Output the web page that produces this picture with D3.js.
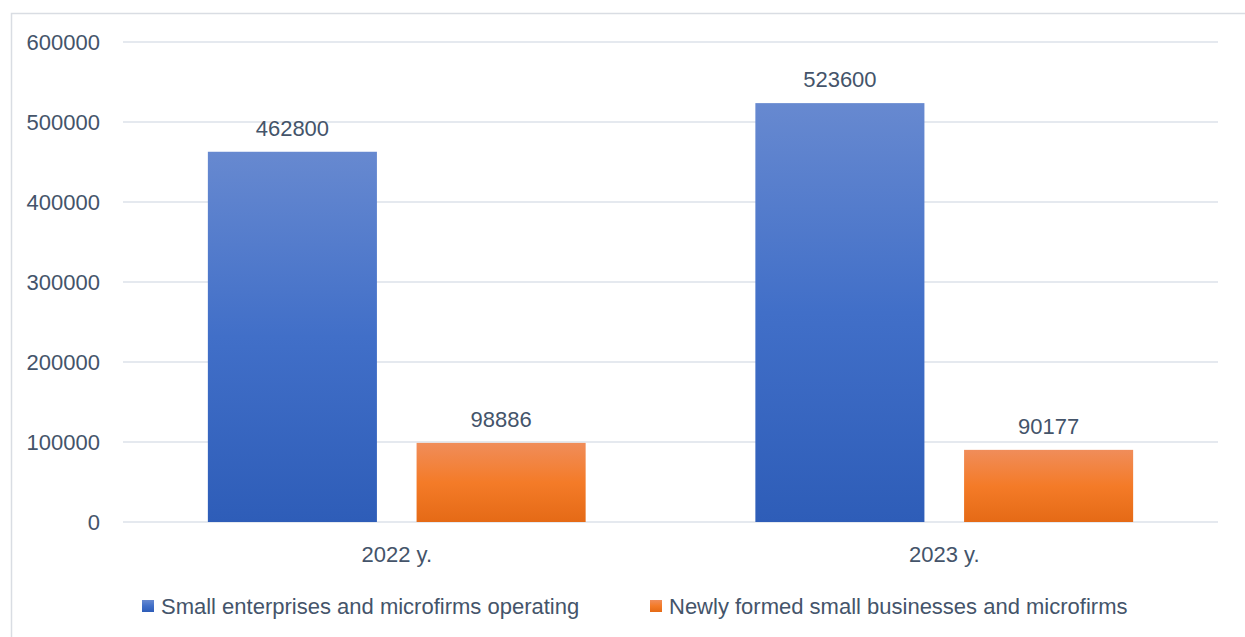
<!DOCTYPE html>
<html>
<head>
<meta charset="utf-8">
<script src="https://cdn.jsdelivr.net/npm/d3@7"></script>
<style>
  body { margin: 0; background: #fff; }
  text { font-family: "Liberation Sans", Arial, sans-serif; fill: #44546a; }
</style>
</head>
<body>
<svg id="chart" width="1245" height="637"></svg>
<script>
const categories = ['2022 y.', '2023 y.']
const seriesNames = ['Small enterprises and microfirms operating', 'Newly formed small businesses and microfirms']
const operating = [462800, 523600]
const newlyFormed = [98886, 90177]
const yTicks = [0, 100000, 200000, 300000, 400000, 500000, 600000]

const margin = {top: 42, right: 27, bottom: 115, left: 123}
const width = 1245
const height = 637

const svg = d3.select('#chart')

// outer chart border (right/bottom fall outside the picture)
svg.append('rect')
  .attr('x', 11.5).attr('y', 13.5)
  .attr('width', 1300).attr('height', 700)
  .attr('fill', 'none')
  .attr('stroke', '#d9dde3')
  .attr('stroke-width', 1.5)

const defs = svg.append('defs')
const gradients = [
  {id: 'gradBlue', stops: ['#6789d0', '#416fc8', '#2e5db8']},
  {id: 'gradOrange', stops: ['#f08d5a', '#f47b28', '#e56a16']}
]
gradients.forEach(g => {
  const lg = defs.append('linearGradient').attr('id', g.id)
    .attr('x1', 0).attr('y1', 0).attr('x2', 0).attr('y2', 1)
  g.stops.forEach((c, i) => lg.append('stop').attr('offset', i / 2).attr('stop-color', c))
})

const rows = categories.map((c, i) => ({cat: c, values: [operating[i], newlyFormed[i]]}))

const x0 = d3.scaleBand()
  .domain(categories)
  .range([margin.left, width - margin.right])
  .padding(0)

const bw = x0.bandwidth()
const x1 = d3.scaleBand()
  .domain([0, 1])
  .range([bw * 0.155, bw * 0.845])
  .paddingInner(0.19)

const y = d3.scaleLinear()
  .domain([0, 600000])
  .range([height - margin.bottom, margin.top])

// gridlines
svg.append('g')
  .selectAll('line')
  .data(yTicks)
  .join('line')
  .attr('x1', margin.left)
  .attr('x2', width - margin.right)
  .attr('y1', d => y(d))
  .attr('y2', d => y(d))
  .attr('stroke', '#dde2ea')
  .attr('stroke-width', 1.6)

// y axis labels
const yAxis = d3.axisLeft(y).tickValues(yTicks).tickSize(0).tickPadding(23).tickFormat(d3.format('d'))
svg.append('g')
  .attr('transform', `translate(${margin.left},0)`)
  .call(yAxis)
  .call(g => g.select('.domain').remove())
  .call(g => g.selectAll('text')
    .attr('fill', '#44546a')
    .style('font-size', '22px')
    .style('font-family', '"Liberation Sans", Arial, sans-serif'))

// bars
const groups = svg.append('g')
  .selectAll('g')
  .data(rows)
  .join('g')
  .attr('transform', d => `translate(${x0(d.cat)},0)`)

groups.selectAll('rect')
  .data(d => d.values.map((v, i) => ({v, i})))
  .join('rect')
  .attr('x', d => x1(d.i))
  .attr('width', x1.bandwidth())
  .attr('y', d => y(d.v))
  .attr('height', d => y(0) - y(d.v))
  .attr('fill', d => `url(#${gradients[d.i].id})`)

groups.selectAll('text.val')
  .data(d => d.values.map((v, i) => ({v, i})))
  .join('text')
  .attr('class', 'val')
  .attr('x', d => x1(d.i) + x1.bandwidth() / 2)
  .attr('y', d => y(d.v) - 16)
  .attr('text-anchor', 'middle')
  .style('font-size', '22px')
  .text(d => d.v)

// x axis labels
const xAxis = d3.axisBottom(x0).tickSize(0).tickPadding(24)
svg.append('g')
  .attr('transform', `translate(0,${y(0)})`)
  .call(xAxis)
  .call(g => g.select('.domain').remove())
  .call(g => g.selectAll('text')
    .attr('fill', '#44546a')
    .style('font-size', '22px')
    .style('font-family', '"Liberation Sans", Arial, sans-serif'))

// legend
const legendX = [142, 650]
const legend = svg.append('g')
  .selectAll('g')
  .data(seriesNames)
  .join('g')
  .attr('transform', (d, i) => `translate(${legendX[i]},600)`)

legend.append('rect')
  .attr('width', 12).attr('height', 12)
  .attr('fill', (d, i) => `url(#${gradients[i].id})`)

legend.append('text')
  .attr('x', 19)
  .attr('y', 14)
  .style('font-size', '22px')
  .text(d => d)
</script>
</body>
</html>
